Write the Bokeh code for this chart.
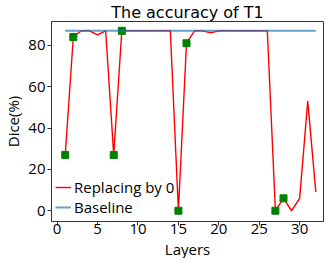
from bokeh.plotting import figure
from bokeh.models import Range1d, FixedTicker, Legend, LegendItem, Title
from bokeh.embed import file_html
from bokeh.resources import INLINE

# ---- data ----
layers = list(range(1, 33))
dice = [27, 84, 87, 87, 85, 87, 27, 87, 87, 87, 87, 87, 87, 87, 0, 81,
        87, 87, 86, 87, 87, 87, 87, 87, 87, 87, 0, 6, 0, 6, 53, 9]
marked_layers = [1, 2, 7, 8, 15, 16, 27, 28]
baseline_value = 87
x_ticks = [0, 5, 10, 15, 20, 25, 30]
y_ticks = [0, 20, 40, 60, 80]
title_text = "The accuracy of T1"
x_label = "Layers"
y_label = "Dice(%)"

marked_dice = [dice[layers.index(l)] for l in marked_layers]
baseline_x = [layers[0], layers[-1]]
baseline_y = [baseline_value, baseline_value]

FONT = "Open Sans"

p = figure(width=324, height=258, output_backend="svg", toolbar_location=None,
           x_range=Range1d(-0.7, 32.95), y_range=Range1d(-5.2, 91.5))
p.min_border_left = 0
p.min_border_right = 1
p.min_border_top = 0
p.min_border_bottom = 0

p.title.text = title_text
p.title.text_font = "DejaVu Sans"
p.title.text_font_size = "16px"
p.title.text_font_style = "normal"
p.title.align = "center"
p.title.text_color = "black"
p.title.standoff = 0
p.title.offset = 0
p.title.text_line_height = 1.0

p.xgrid.visible = False
p.ygrid.visible = False
p.outline_line_color = "#333333"
p.outline_line_width = 1

for ax in (p.xaxis[0], p.yaxis[0]):
    ax.axis_line_color = "#333333"
    ax.major_tick_line_color = "#333333"
    ax.major_tick_out = 4
    ax.major_tick_in = 0
    ax.minor_tick_line_color = None
    ax.major_label_text_font = FONT
    ax.major_label_text_font_size = "15px"
    ax.major_label_text_color = "black"
    ax.axis_label_text_font = FONT
    ax.axis_label_text_font_size = "15px"
    ax.axis_label_text_font_style = "normal"
    ax.axis_label_text_color = "black"

p.xaxis[0].major_label_standoff = -2
p.yaxis[0].major_label_standoff = 2
p.yaxis[0].axis_label_standoff = 2

p.xaxis[0].ticker = FixedTicker(ticks=x_ticks)
p.yaxis[0].ticker = FixedTicker(ticks=y_ticks)
p.yaxis[0].axis_label = y_label

xt = Title(text=x_label, align="center", text_font=FONT, text_font_size="15px",
           text_font_style="normal", text_color="black", standoff=0, offset=0,
           text_line_height=1.0)
p.add_layout(xt, "below")

r_red = p.line(layers, dice, line_color="red", line_width=1.4)
p.scatter(marked_layers, marked_dice, marker="square", size=7,
          fill_color="green", line_color="green")
r_blue = p.line(baseline_x, baseline_y, line_color="#1f77b4", line_width=2, line_alpha=0.7)

legend = Legend(items=[LegendItem(label="Replacing by 0", renderers=[r_red]),
                       LegendItem(label="Baseline", renderers=[r_blue])],
                location="bottom_left")
legend.border_line_color = None
legend.background_fill_alpha = 0
legend.label_text_font = FONT
legend.label_text_font_size = "15px"
legend.label_text_color = "black"
legend.glyph_width = 16
legend.glyph_height = 12
legend.label_height = 12
legend.spacing = -4
legend.padding = 2
legend.margin = 4
legend.label_standoff = 3
p.add_layout(legend)

open("out.html", "w").write(file_html(p, INLINE))
